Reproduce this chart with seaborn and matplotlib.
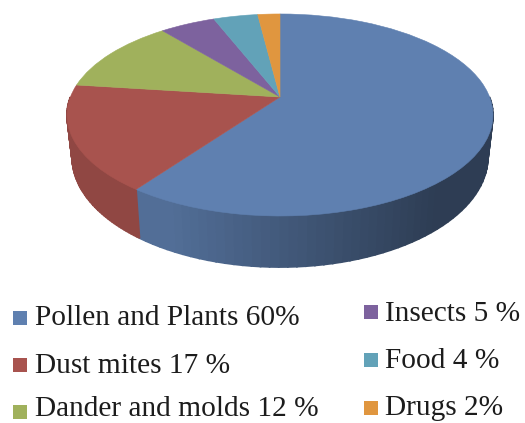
import numpy as np
import seaborn as sns
import matplotlib
matplotlib.use("Agg")
import matplotlib.pyplot as plt
from matplotlib.colors import to_rgb
from matplotlib.patches import PathPatch, Rectangle
from matplotlib.path import Path

categories = ["Pollen and Plants", "Dust mites", "Dander and molds", "Insects", "Food", "Drugs"]
values = [60, 17, 12, 5, 4, 2]
labels = ["Pollen and Plants 60%", "Dust mites 17 %", "Dander and molds 12 %",
          "Insects 5 %", "Food 4 %", "Drugs 2%"]
colors = ["#5F80B0", "#A8534E", "#A0B15C", "#7D629E", "#62A2B8", "#E0963F"]

sns.set_theme(style="white")
plt.rcParams["font.family"] = ["Liberation Serif", "DejaVu Serif"]

W, H = 525, 423
fig = plt.figure(figsize=(W / 100, H / 100), dpi=100, facecolor="white")
ax = fig.add_axes([0, 0, 1, 1])

# perspective view of the unit disc, in pixels of the axes
APEX_X, APEX_Y, K, A, B = 280, 97, 0.178, 209.6, 97.8


def project(u, v, sx=1.0, sy=1.0, off=0.0):
    w = 1 + K * np.asarray(v)
    return (APEX_X + sx * A * np.asarray(u) / w,
            APEX_Y - sy * B * np.asarray(v) / w + off)


wedges, _ = ax.pie(values, colors=colors, startangle=90, counterclock=False, radius=1)
top_paths = []
for w in wedges:
    p = w.get_path()
    x, y = project(p.vertices[:, 0], p.vertices[:, 1])
    top_paths.append(Path(np.column_stack([x, y]), p.codes))
    w.remove()

ax.set_aspect("auto")
ax.set_xlim(0, W)
ax.set_ylim(H, 0)
ax.axis("off")

# side wall, from the same slice angles
edges = np.cumsum([0] + values) / sum(values) * 2 * np.pi
for i, col in enumerate(colors):
    th0, th1 = edges[i], edges[i + 1]
    lo, hi = max(th0, np.pi / 2), min(th1, 3 * np.pi / 2)
    if hi <= lo:
        continue
    th = np.linspace(lo, hi, 61)
    rgb = np.array(to_rgb(col))
    for t0, t1 in zip(th[:-1], th[1:]):
        us, vs = np.sin([t0, t1]), np.cos([t0, t1])
        xt, yt = project(us, vs)
        xb, yb = project(us, vs, sx=0.976, sy=1.09, off=40.4)
        u = xt.mean() / W
        shade = np.clip(1.1 - 0.75 * u, 0.48, 0.86)
        c = tuple(rgb * shade)
        ax.fill(np.r_[xt, xb[::-1]], np.r_[yt, yb[::-1]], facecolor=c, edgecolor=c,
                linewidth=1.2, zorder=2)

for path, col in zip(top_paths, colors):
    ax.add_patch(PathPatch(path, facecolor=col, edgecolor=col, linewidth=0.4, zorder=5))

# legend
square_x = [13, 13, 13, 364, 364, 364]
square_y = [311, 358, 405, 305, 353, 401]
text_x = [35, 35, 35, 385, 385, 385]
text_y = [325, 373, 416, 321, 368, 415]
for sx, sy, tx, ty, lab, col in zip(square_x, square_y, text_x, text_y, labels, colors):
    ax.add_patch(Rectangle((sx, sy), 14, 14, facecolor=col, linewidth=0, zorder=6))
    ax.text(tx, ty, lab, fontsize=21.2, color="#1c1c1c", va="baseline", ha="left", zorder=6)

fig.savefig("out.png", dpi=100)
